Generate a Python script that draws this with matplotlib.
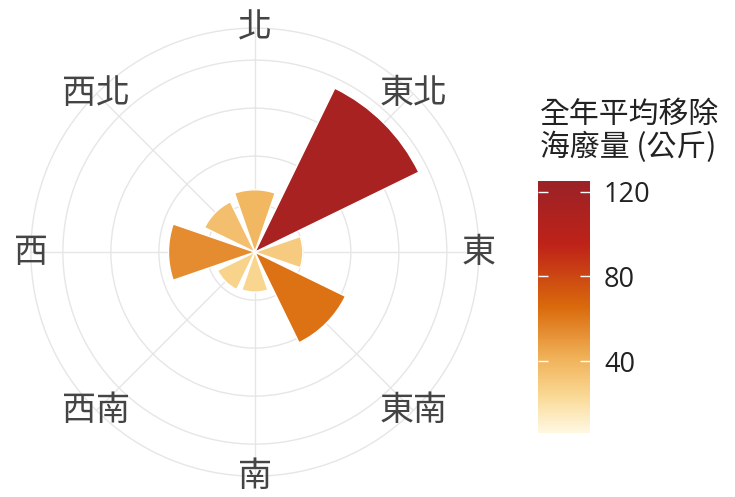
import numpy as np
import matplotlib
matplotlib.use('Agg')
import matplotlib.pyplot as plt
from matplotlib.colors import LinearSegmentedColormap, Normalize
from matplotlib.cm import ScalarMappable

plt.rcParams['font.family'] = ['Noto Sans CJK TC', 'DejaVu Sans']

# directions, clockwise from north
directions = ['北', '東北', '東', '東南', '南', '西南', '西', '西北']
angles_deg = [0, 45, 90, 135, 180, 225, 270, 315]
# annual average removed debris (kg)
values = [39, 114, 30, 63, 25, 26, 54, 35]

cb_min, cb_max = 6, 125
cb_ticks = [40, 80, 120]
ring_ticks = [30, 60, 90, 120]
r_max = 140

cmap = LinearSegmentedColormap.from_list(
    'debris', [(0.0, '#FFF8E1'), (0.15, '#F9D893'), (0.3, '#F0B057'),
               (0.5, '#DA6A0C'), (0.75, '#BE2219'), (1.0, '#9B2226')])
norm = Normalize(vmin=cb_min, vmax=cb_max)

fig = plt.figure(figsize=(7.35, 4.97), dpi=100)
ax = fig.add_axes([0.042, 0.042, 0.6095, 0.9014], projection='polar')
ax.set_theta_zero_location('N')
ax.set_theta_direction(-1)
ax.set_axisbelow(True)

theta = np.deg2rad(angles_deg)
ax.bar(theta, values, width=np.deg2rad(38), color=cmap(norm(values)),
       edgecolor='white', linewidth=1, zorder=3)

ax.set_ylim(0, r_max)
ax.set_yticks(ring_ticks)
ax.set_yticklabels([])
ax.set_xticks(theta)
ax.set_xticklabels([])
ax.grid(True, color='#E6E6E6', linewidth=1)
ax.spines['polar'].set_color('#E6E6E6')
ax.spines['polar'].set_linewidth(1)

for t, lab in zip(theta, directions):
    ax.text(t, r_max, lab, ha='center', va='center', fontsize=24.5,
            color='#444444', zorder=5)

# colorbar
cax = fig.add_axes([538 / 735, 64 / 497, 52 / 735, 252 / 497])
sm = ScalarMappable(norm=norm, cmap=cmap)
cb = fig.colorbar(sm, cax=cax)
cb.outline.set_visible(False)
cb.set_ticks(cb_ticks)
cax.yaxis.set_ticks_position('both')
cax.tick_params(direction='in', length=7, width=1, color='white',
                labelcolor='#222222', labelsize=19.5, pad=10,
                labelleft=False, labelright=True)
for lbl in cax.get_yticklabels():
    lbl.set_family(['Open Sans', 'DejaVu Sans'])

fig.text(540 / 735, 1 - 99 / 497, '全年平均移除\n海廢量 (公斤)', ha='left',
         va='top', fontsize=21.5, color='#222222', linespacing=1.05)

fig.savefig('out.png', dpi=100)
